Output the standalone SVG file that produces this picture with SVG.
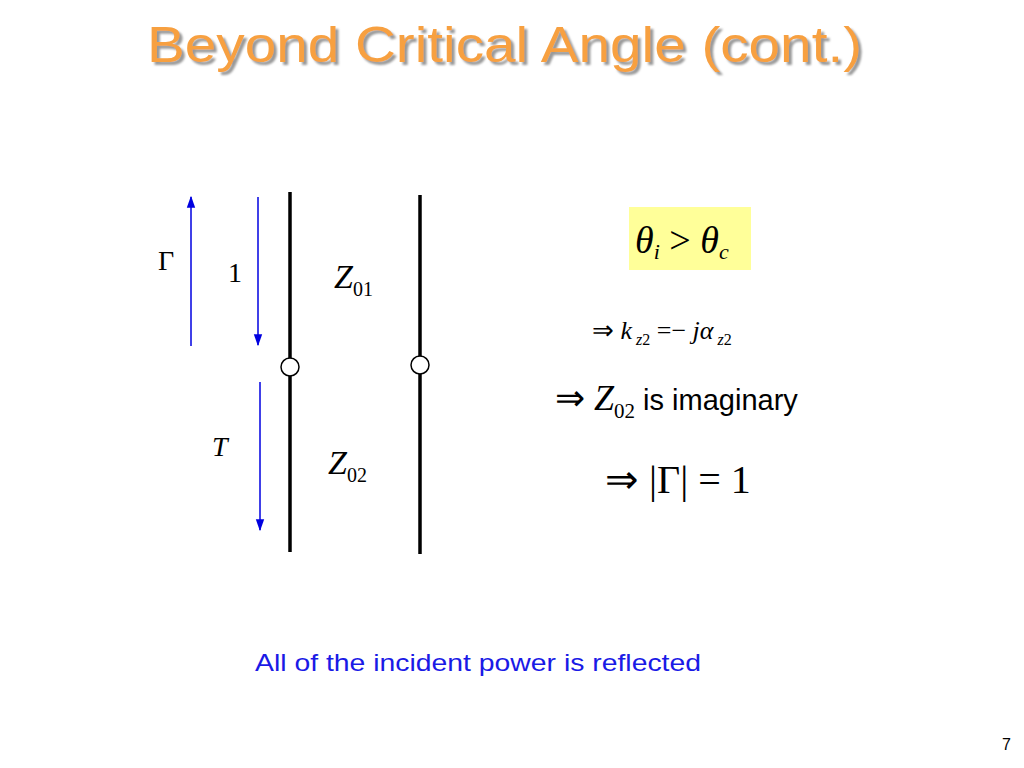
<svg xmlns="http://www.w3.org/2000/svg" width="1024" height="768" viewBox="0 0 1024 768">
<style>
.m{font-family:"Liberation Serif",serif;fill:#000}
.mi{font-family:"Liberation Serif",serif;font-style:italic;fill:#000}
.s{font-family:"Liberation Sans",Arial,sans-serif}
.b{stroke:#0000e0;stroke-width:1.5;fill:none}
.k{stroke:#000;stroke-width:3.5}
</style>
<defs>
<marker id="a" viewBox="0 0 10 10" refX="9" refY="5" markerWidth="8" markerHeight="8" orient="auto-start-reverse"><path d="M0,1.5 L10,5 L0,8.5 z" fill="#0000e0"/></marker>
<filter id="sh" x="-5%" y="-20%" width="110%" height="150%"><feDropShadow dx="3" dy="3" stdDeviation="0.8" flood-color="#999"/></filter>
</defs>
<rect width="1024" height="768" fill="#fff"/>
<text x="147" y="62" class="s" font-size="50" fill="#f7a040" textLength="715" lengthAdjust="spacingAndGlyphs" filter="url(#sh)">Beyond Critical Angle (cont.)</text>
<g id="connectors">
<line class="b" x1="191" y1="346" x2="191" y2="197" marker-end="url(#a)"/>
<line class="b" x1="258" y1="197" x2="258" y2="345" marker-end="url(#a)"/>
<line class="b" x1="260" y1="382" x2="260" y2="530" marker-end="url(#a)"/>
</g>
<g id="line1"><line class="k" x1="290" y1="192" x2="290" y2="552"/><circle cx="290" cy="367" r="9" fill="#fff" stroke="#000" stroke-width="1.5"/></g>
<g id="line2"><line class="k" x1="420" y1="195" x2="420" y2="554"/><circle cx="420" cy="365" r="9" fill="#fff" stroke="#000" stroke-width="1.5"/></g>
<text x="158" y="270" class="m" font-size="28">Γ</text>
<text x="228" y="282" class="m" font-size="28">1</text>
<text x="212" y="456" class="mi" font-size="28">T</text>
<text x="334" y="288" class="mi" font-size="34">Z<tspan class="m" font-style="normal" font-size="20" dy="8">01</tspan></text>
<text x="328" y="474" class="mi" font-size="34">Z<tspan class="m" font-style="normal" font-size="20" dy="8">02</tspan></text>
<g id="cond"><rect x="629" y="207" width="122" height="63" fill="#ffff99"/>
<text x="635" y="253" class="mi" font-size="38">θ<tspan font-size="22" dy="6">i</tspan><tspan class="m" font-style="normal" font-size="38" dy="-6"> &gt; </tspan>θ<tspan font-size="22" dy="6">c</tspan></text></g>
<text x="592" y="339" class="m" font-size="26">⇒  <tspan class="mi">k</tspan><tspan class="mi" font-size="16" dy="6"> z</tspan><tspan font-size="16">2</tspan><tspan dy="-6"> =− </tspan><tspan class="mi">jα</tspan><tspan class="mi" font-size="16" dy="6"> z</tspan><tspan font-size="16">2</tspan></text>
<text x="555" y="410" class="m" font-size="36">⇒ <tspan class="mi" font-style="normal">Z</tspan><tspan font-size="21" dy="8">02</tspan><tspan class="s" font-size="29" dy="-8" fill="#000"> is imaginary</tspan></text>
<text x="605" y="493" class="m" font-size="40">⇒ |Γ| = 1</text>
<text x="255" y="671" class="s" font-size="24" fill="#1a1ae6" textLength="446" lengthAdjust="spacingAndGlyphs">All of the incident power is reflected</text>
<text x="1002" y="750" class="s" font-size="16" fill="#000">7</text>
</svg>
